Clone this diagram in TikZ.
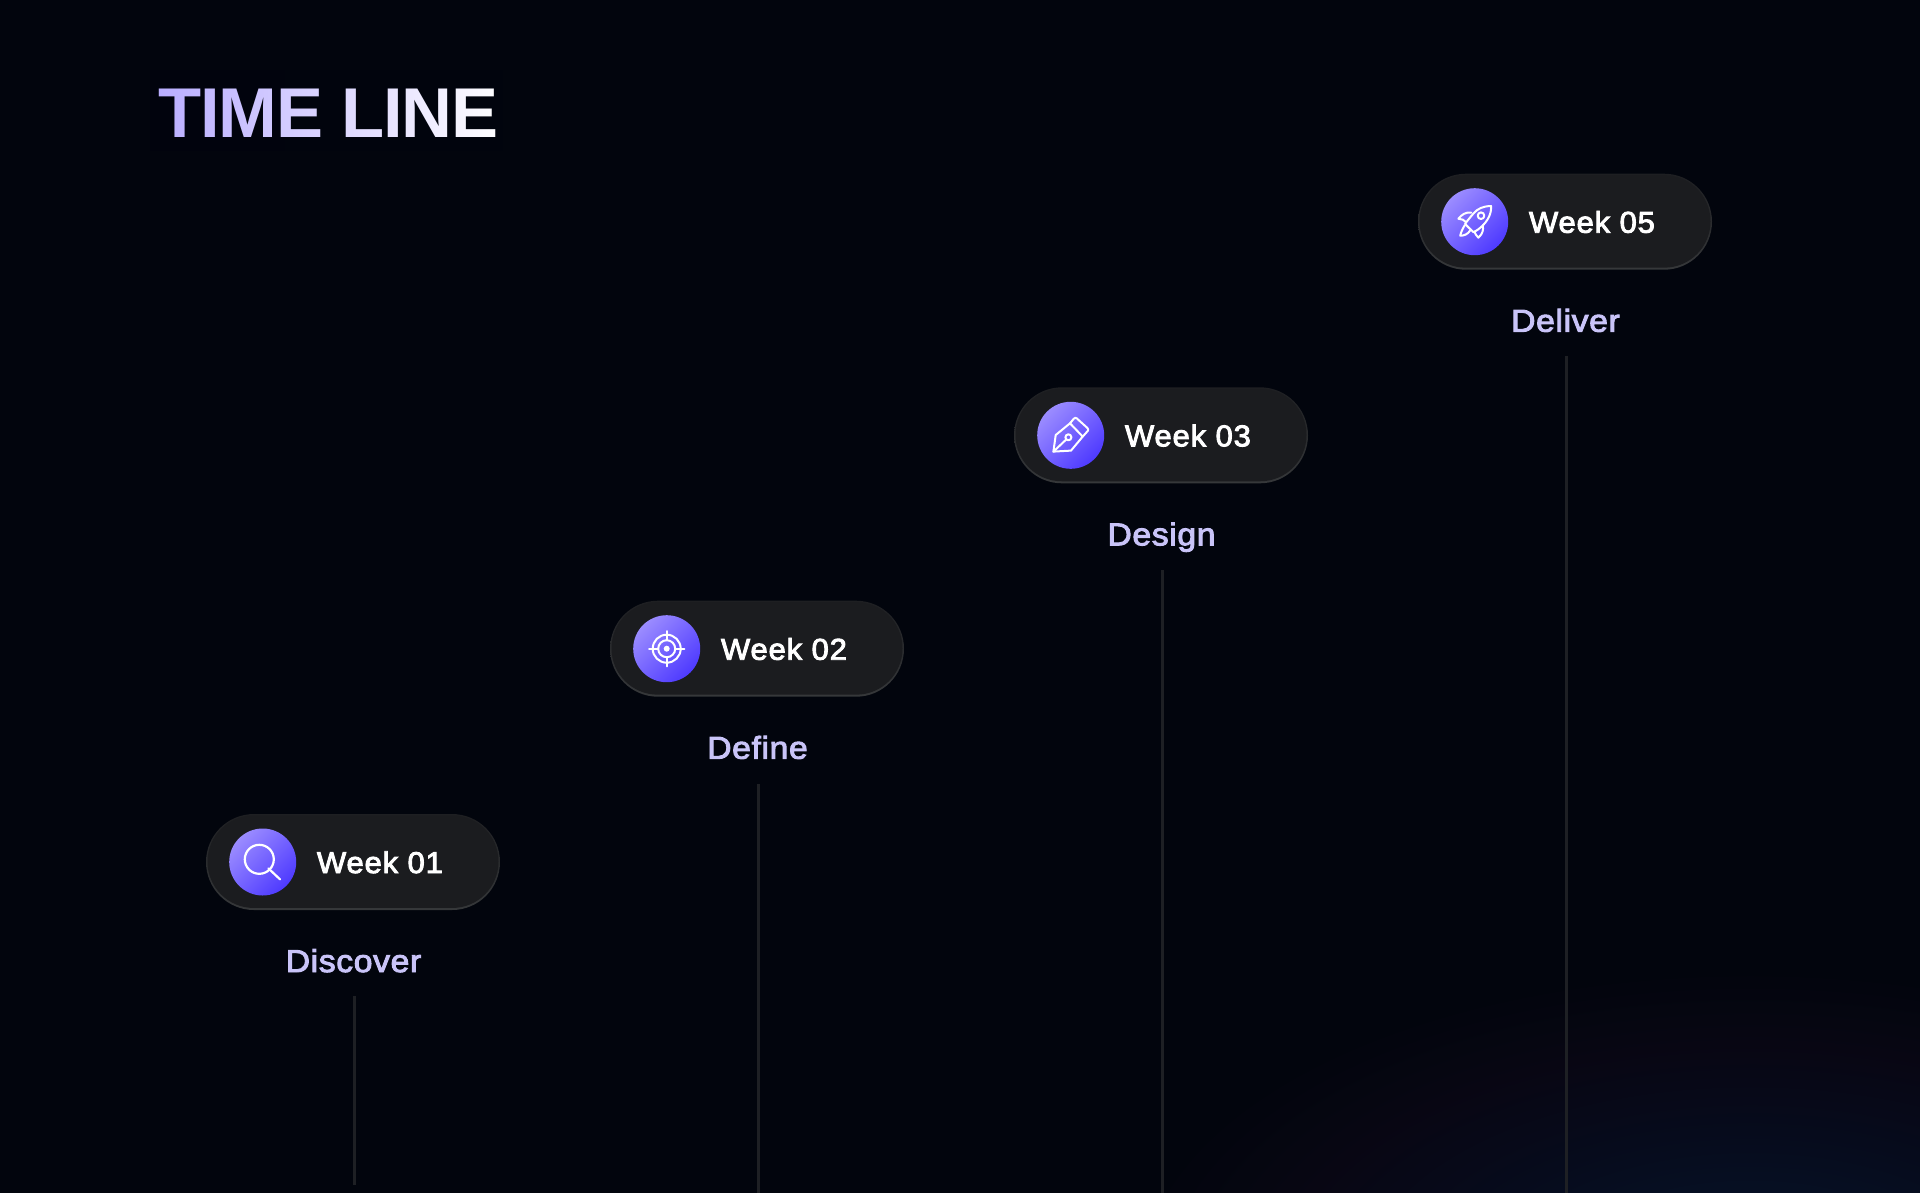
\documentclass[tikz,border=0pt]{standalone}
\usepackage{fontspec}
\setmainfont{Liberation Sans}
\newfontfamily\weekfont[FakeBold=3,LetterSpace=3,FakeStretch=1.03]{Liberation Sans}
\newfontfamily\phasefont[FakeBold=3,LetterSpace=2,FakeStretch=1.07]{Liberation Sans}
\newfontfamily\titlefont[LetterSpace=-1.8]{Liberation Sans}
\usetikzlibrary{shapes.misc}
\definecolor{bgc}{RGB}{2,5,13}
\definecolor{pillc}{RGB}{27,28,31}
\definecolor{edgetop}{RGB}{30,31,34}
\definecolor{edgebot}{RGB}{54,56,58}
\definecolor{stemc}{RGB}{30,32,36}
\definecolor{labelc}{RGB}{201,196,248}
\definecolor{discA}{RGB}{155,140,255}
\definecolor{discB}{RGB}{78,58,255}
\pgfdeclareradialshading{glow}{\pgfpoint{0bp}{0bp}}{%
  rgb(0bp)=(0.024,0.085,0.175);
  rgb(12bp)=(0.024,0.043,0.110);
  rgb(19bp)=(0.031,0.024,0.075);
  rgb(25bp)=(0.008,0.020,0.051);
  rgb(100bp)=(0.008,0.020,0.051)}
\tikzset{
  x=1pt,y=-1pt,
  pillouter/.style={shape=rounded rectangle,rounded rectangle arc length=180,minimum width=294pt,minimum height=96pt,inner sep=0pt,outer sep=0pt,top color=edgetop,bottom color=edgebot},
  pillinner/.style={shape=rounded rectangle,rounded rectangle arc length=180,minimum width=291pt,minimum height=92.5pt,inner sep=0pt,outer sep=0pt,fill=pillc},
  disc/.style={shape=circle,minimum size=67pt,inner sep=0pt,outer sep=0pt,left color=discA,right color=discB,shading angle=45},
  weektext/.style={anchor=base west,inner sep=0pt,outer sep=0pt,text=white,font=\weekfont\fontsize{30}{30}\selectfont},
  phasetext/.style={anchor=base,inner sep=0pt,outer sep=0pt,text=labelc,font=\phasefont\fontsize{31.5}{31.5}\selectfont},
  stem/.style={draw=stemc,line width=2.6pt},
  glyph/.style={draw=white,line width=2.2pt,line cap=round,line join=round},
  iconsearch/.pic={
    \draw[glyph] (-3.4,-2.7) circle (14.5);
    \draw[glyph] (5.6,6.3) -- (17.3,17.3);
  },
  icontarget/.pic={
    \draw[glyph,line width=2pt] (0,0) circle (14);
    \draw[glyph,line width=2pt] (0,0) circle (8.5);
    \fill[white] (0,0) circle (3);
    \draw[glyph,line width=2pt] (0,-17.7) -- (0,-8.5) (0,8.5) -- (0,17.7) (-17.7,0) -- (-8.5,0) (8.5,0) -- (17.7,0);
  },
  iconpen/.pic={
    \draw[glyph,line width=2pt] (-17.3,16.3) -- (-15,-0.3) -- (-0.7,-12) -- (12,1.3) -- (0.3,15.3) -- cycle;
    \draw[glyph,line width=2pt] (-0.7,-12) -- (3,-16.5) .. controls (4,-17.7) and (5,-17.7) .. (6,-17) -- (16.5,-7.5) .. controls (17.8,-6.3) and (17.8,-5.3) .. (17,-4.3) -- (12,1.3);
    \draw[glyph,line width=2pt] (-2.3,2) circle (3);
    \draw[glyph,line width=2pt] (-17.3,16.3) -- (-4.4,4.1);
  },
  iconrocket/.pic={
    \draw[glyph,line width=2pt] (16.3,-15.7) .. controls (8,-15.5) and (3,-13) .. (-1,-8.5) .. controls (-4,-5) and (-7,-1.5) .. (-9.7,2.2) -- (-1.3,10.5) .. controls (2,9) and (4,7.5) .. (6,5.7) .. controls (13,-0.5) and (17,-8) .. (16.3,-15.7) -- cycle;
    \draw[glyph,line width=2pt] (6.3,-6) circle (3.3);
    \draw[glyph,line width=2pt] (-3.5,-9) .. controls (-9,-10) and (-13,-7) .. (-16.3,-3) .. controls (-13,-3) and (-10.5,-1.5) .. (-8.5,0.5);
    \draw[glyph,line width=2pt] (-10,3.5) .. controls (-12,7) and (-14,11) .. (-14.5,14) .. controls (-11,14) and (-7,13) .. (-4,8);
    \draw[glyph,line width=2pt] (8,3.5) .. controls (9,8) and (8,12) .. (3.7,16) .. controls (2,14) and (0,12) .. (-0.3,10);
  }
}
\newcommand{\milestone}[8]{%
  % #1 id, #2 pill x, #3 pill y, #4 week, #5 phase, #6 icon, #7 stem top, #8 stem bottom
  \node[pillouter] (pill#1) at (#2,#3) {};
  \node[pillinner] (fill#1) at ([yshift=0.3pt]pill#1.center) {};
  \node[disc] (disc#1) at (#2-90.3,#3) {};
  \pic at (disc#1) {#6};
  \node[weektext] (week#1) at (#2-36,#3+11) {#4};
  \node[phasetext] (phase#1) at (#2+0.5,#3+110) {#5};
  \coordinate (top#1) at (#2+1.7,#7);
  \coordinate (bot#1) at (#2+1.7,#8);
  \draw[stem] (top#1) -- (bot#1);
}
\begin{document}
\begin{tikzpicture}
\useasboundingbox (0,0) rectangle (1920,1192);
\fill[bgc] (-6,-6) rectangle (1926,1198);
\begin{scope}
  \clip (-6,-6) rectangle (1926,1198);
  \shade[shading=glow] (1130,970) rectangle (2370,1590);
\end{scope}
\node[anchor=base west,inner sep=0pt,outer sep=0pt,text=white,font=\titlefont\bfseries\fontsize{70.5}{70.5}\selectfont] (title) at (158.5,137.3) {TIME LINE};
\shade[blend mode=multiply,left color={rgb,255:red,184;green,172;blue,255},right color=white] (150,70) rectangle (505,150);
\milestone{1}{353}{862}{Week 01}{Discover}{iconsearch}{996}{1185}
\milestone{2}{757}{648.7}{Week 02}{Define}{icontarget}{784}{1198}
\milestone{3}{1161}{435.3}{Week 03}{Design}{iconpen}{570}{1198}
\milestone{4}{1565}{221.7}{Week 05}{Deliver}{iconrocket}{356}{1198}
\end{tikzpicture}
\end{document}
